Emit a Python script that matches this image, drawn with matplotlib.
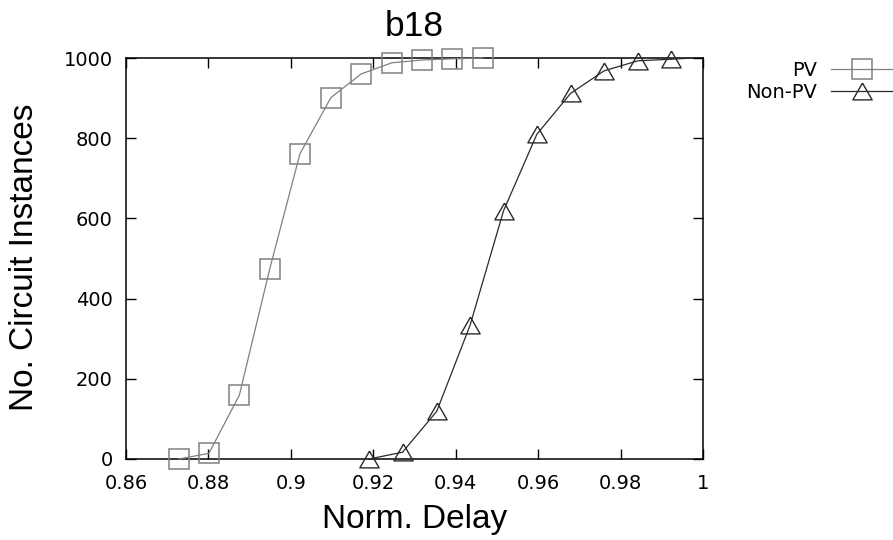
import matplotlib
matplotlib.use('Agg')
import matplotlib.pyplot as plt
from matplotlib.ticker import FormatStrFormatter, FuncFormatter

# data
pv_x = [0.8728, 0.8801, 0.8875, 0.8949, 0.9022, 0.9097, 0.9170, 0.9245, 0.9318, 0.9392, 0.9465]
pv_y = [0, 14, 159, 475, 761, 901, 960, 988, 995, 998, 1000]
nonpv_x = [0.9190, 0.9271, 0.9354, 0.9435, 0.9516, 0.9597, 0.9679, 0.9760, 0.9842, 0.9922]
nonpv_y = [0, 17, 119, 334, 619, 810, 912, 968, 993, 997]
# the Non-PV line runs on past its last marker to the top border
nonpv_tail_x = [0.9922, 0.9975]
nonpv_tail_y = [997, 1000]

x_ticks = [0.86, 0.88, 0.90, 0.92, 0.94, 0.96, 0.98, 1.0]
y_ticks = [0, 200, 400, 600, 800, 1000]

pv_color = '#808080'
npv_color = '#2a2a2a'

plt.rcParams['font.family'] = ['DejaVu Sans']
fig = plt.figure(figsize=(8.93, 5.4), dpi=100)
ax = fig.add_axes([126/893, 1-459/540, (703-126)/893, (459-58)/540])

# gnuplot style triangle (a bit flatter than matplotlib's)
tri = [(0, 0.87), (-1, -0.87), (1, -0.87), (0, 0.87)]

ax.plot(pv_x, pv_y, color=pv_color, lw=0.9, marker='s', ms=13.9,
        mfc='none', mec=pv_color, mew=1.1, label='PV', clip_on=False, zorder=3)
ax.plot(nonpv_x, nonpv_y, color=npv_color, lw=0.9, marker=tri, ms=13.9,
        mfc='none', mec=npv_color, mew=1.0, label='Non-PV', clip_on=False, zorder=3)
ax.plot(nonpv_tail_x, nonpv_tail_y, color=npv_color, lw=0.9, zorder=3)

ax.set_xlim(0.86, 1.0)
ax.set_ylim(0, 1000)
ax.set_xticks(x_ticks)
ax.set_yticks(y_ticks)
ax.xaxis.set_major_formatter(FuncFormatter(lambda v, p: '%g' % round(v, 4)))
ax.yaxis.set_major_formatter(FormatStrFormatter('%d'))
ax.tick_params(axis='both', direction='in', length=7, width=1.0, labelsize=14,
               top=True, right=True, colors='black')
ax.tick_params(axis='x', pad=11)
ax.tick_params(axis='y', pad=9.5)
for s in ax.spines.values():
    s.set_linewidth(1.1)
    s.set_color('black')

fig.text(414.5/893, 1-36/540, 'b18', ha='center', va='baseline',
         fontsize=25.5, family='Liberation Sans')
fig.text(415/893, 1-528/540, 'Norm. Delay', ha='center', va='baseline',
         fontsize=24, family='Liberation Sans')
fig.text(24.5/893, 1-257/540, 'No. Circuit Instances', ha='center', va='center',
         rotation=90, fontsize=24, family='Liberation Sans')

leg = ax.legend(loc='center right', bbox_to_anchor=(1.0, 1-81.4/540),
                bbox_transform=fig.transFigure, frameon=False, markerfirst=False,
                fontsize=14, handlelength=3.2, handletextpad=0.72,
                labelspacing=0.18, borderpad=0, borderaxespad=0, numpoints=1)

fig.savefig('out.png', dpi=100)
